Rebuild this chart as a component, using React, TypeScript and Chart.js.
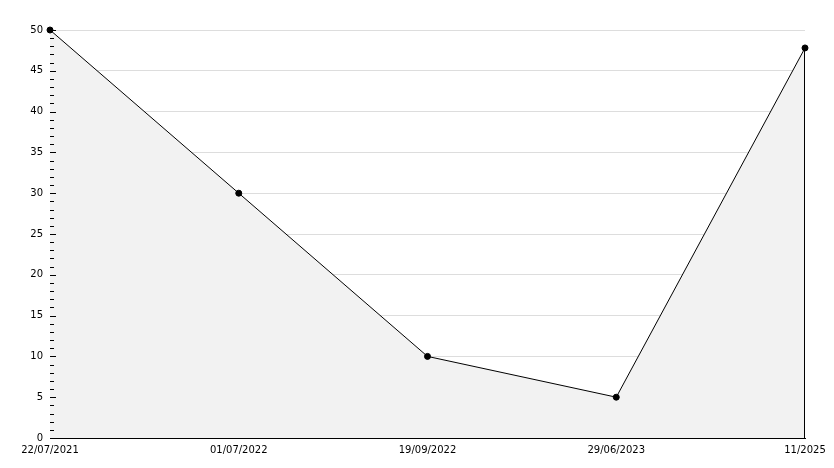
import React, { useEffect, useRef } from "react";
import { Chart, registerables } from "chart.js";

Chart.register(...registerables);

const categories = ["22/07/2021", "01/07/2022", "19/09/2022", "29/06/2023", "11/2025"];
const values = [50, 30, 10, 5, 47.8];
const yMin = 0;
const yMax = 50;
const majorStep = 5;
const minorStep = 1;

const FONT = { family: "DejaVu Sans", size: 10 };

const innerTicks = {
  id: "innerTicks",
  afterDatasetsDraw(chart: any) {
    const { ctx, chartArea, scales } = chart;
    const y = scales.y;
    ctx.save();
    ctx.strokeStyle = "#000";
    ctx.lineWidth = 1;
    const x0 = Math.round(chartArea.left);
    for (let v = yMin; v <= yMax; v += minorStep) {
      const py = Math.round(y.getPixelForValue(v)) + 0.5;
      const len = v % majorStep === 0 ? 6 : 4;
      ctx.beginPath();
      ctx.moveTo(x0, py);
      ctx.lineTo(x0 + len, py);
      ctx.stroke();
    }
    // fill outline at last point
    const meta = chart.getDatasetMeta(0);
    const last = meta.data[meta.data.length - 1];
    if (last) {
      const px = Math.round(last.x) - 0.5;
      ctx.beginPath();
      ctx.moveTo(px, last.y);
      ctx.lineTo(px, y.getPixelForValue(yMin));
      ctx.stroke();
    }
    ctx.restore();
  },
};

export default function App() {
  const ref = useRef<HTMLCanvasElement | null>(null);
  useEffect(() => {
    document.body.style.margin = "0";
    const chart = new Chart(ref.current!, {
      type: "line",
      data: {
        labels: categories,
        datasets: [
          {
            data: values,
            borderColor: "#000",
            borderWidth: 1,
            backgroundColor: "#f2f2f2",
            fill: "origin",
            tension: 0,
            clip: false,
            pointRadius: 3,
            pointBackgroundColor: "#000",
            pointBorderColor: "#000",
            pointBorderWidth: 1,
          },
        ],
      },
      options: {
        animation: false,
        responsive: false,
        maintainAspectRatio: false,
        layout: { padding: { top: 30, right: 29, left: 0, bottom: 0 } },
        plugins: { legend: { display: false }, tooltip: { enabled: false } },
        scales: {
          x: {
            type: "category",
            offset: false,
            grid: { display: false, drawTicks: false },
            border: { display: true, color: "#000", width: 1 },
            ticks: { color: "#000", font: FONT, maxRotation: 0, autoSkip: false, padding: 6 },
            afterFit(scale: any) {
              scale.height = 30;
            },
          },
          y: {
            min: yMin,
            max: yMax,
            grid: {
              drawTicks: false,
              color: "#dddddd",
              lineWidth: 1,
            },
            border: { display: true, color: "#000", width: 1 },
            ticks: { stepSize: majorStep, color: "#000", font: FONT, padding: 7 },
            afterFit(scale: any) {
              scale.width = 50;
            },
          },
        },
      },
      plugins: [innerTicks],
    });
    return () => chart.destroy();
  }, []);
  return <canvas ref={ref} width={834} height={468} style={{ display: "block" }} />;
}
